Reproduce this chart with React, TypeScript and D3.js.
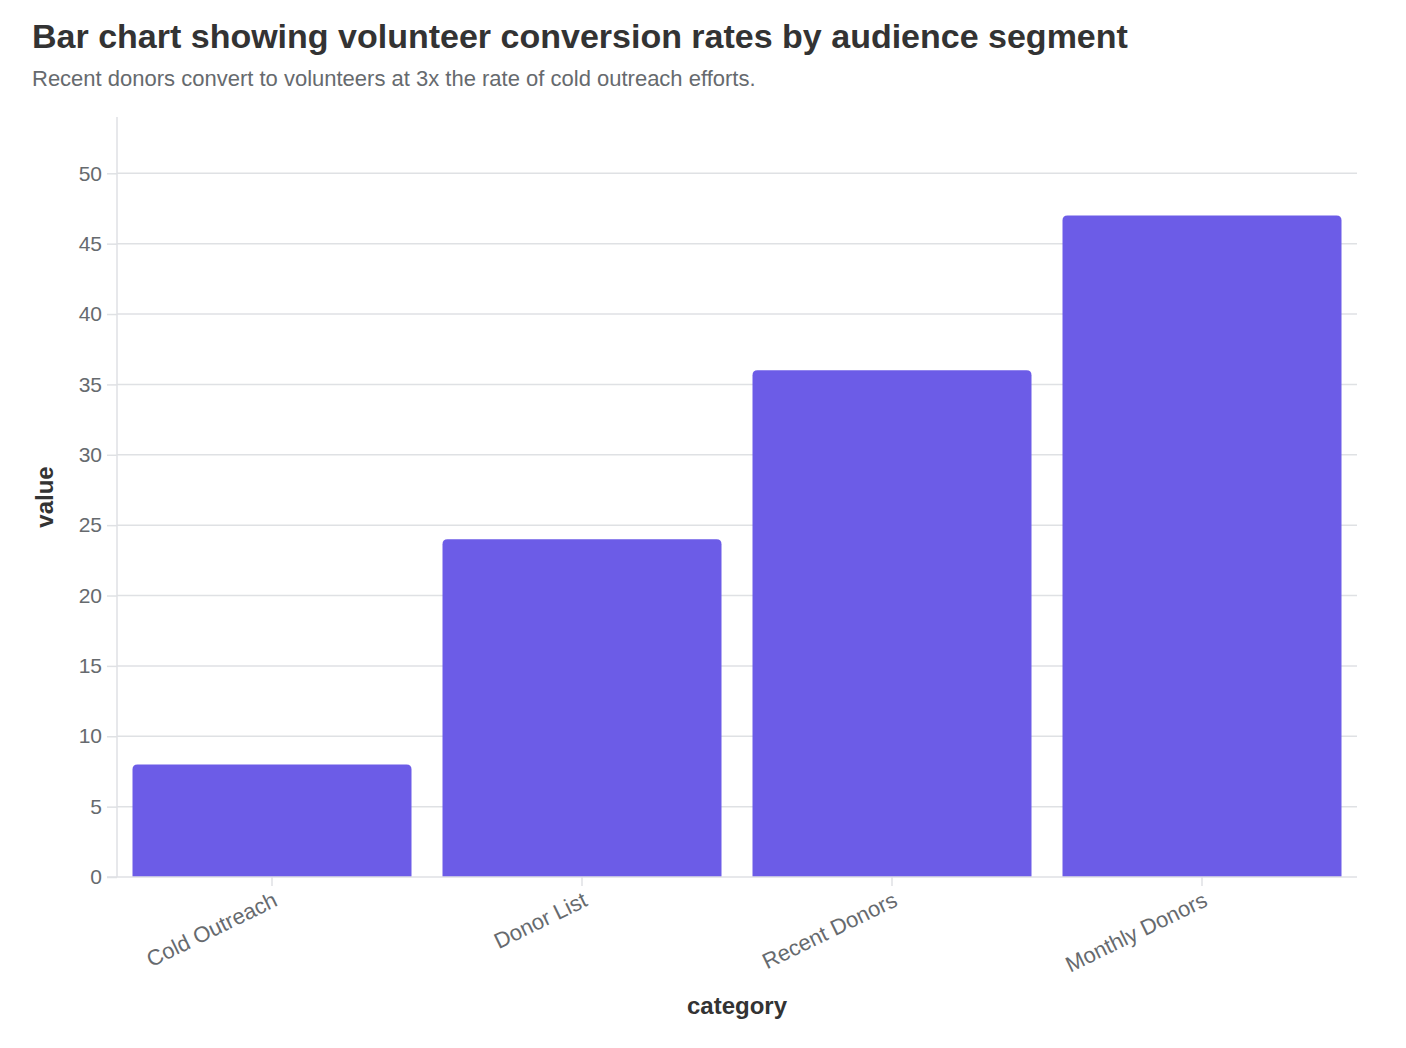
import { useEffect, useRef } from 'react';
import * as d3 from 'd3';

const WIDTH = 1406;
const HEIGHT = 1048;
const MARGIN = { top: 117, right: 49, bottom: 171, left: 117 };

const CATEGORIES = ['Cold Outreach', 'Donor List', 'Recent Donors', 'Monthly Donors'];
const VALUES = [8, 24, 36, 47];
const Y_TICKS = [0, 5, 10, 15, 20, 25, 30, 35, 40, 45, 50];

const BAR_COLOR = '#6c5ce7';
const GRID_COLOR = '#dfe1e4';
const TEXT_MUTED = '#666a6e';
const TEXT_DARK = '#333333';
const FONT = "'Liberation Sans', Arial, Helvetica, sans-serif";

export default function App() {
  const svgRef = useRef<SVGSVGElement>(null);

  useEffect(() => {
    const svg = d3.select(svgRef.current);
    svg.selectAll('*').remove();

    const x0 = MARGIN.left;
    const x1 = WIDTH - MARGIN.right;
    const y0 = HEIGHT - MARGIN.bottom;
    const y1 = MARGIN.top;

    const x = d3.scaleBand<string>().domain(CATEGORIES).range([x0, x1]).paddingInner(0.1).paddingOuter(0.05);
    const y = d3.scaleLinear().domain([0, 54]).range([y0, y1]);

    // title + subtitle
    svg.append('text')
      .attr('x', 32).attr('y', 48)
      .attr('font-family', FONT).attr('font-size', 34).attr('font-weight', 700)
      .attr('fill', TEXT_DARK)
      .text('Bar chart showing volunteer conversion rates by audience segment');
    svg.append('text')
      .attr('x', 32).attr('y', 86)
      .attr('font-family', FONT).attr('font-size', 22)
      .attr('fill', TEXT_MUTED)
      .text('Recent donors convert to volunteers at 3x the rate of cold outreach efforts.');

    // grid
    svg.append('g')
      .selectAll('line')
      .data(Y_TICKS.filter((t) => t > 0))
      .join('line')
      .attr('x1', x0).attr('x2', x1)
      .attr('y1', (d) => y(d)).attr('y2', (d) => y(d))
      .attr('stroke', GRID_COLOR).attr('stroke-width', 1.5);

    // bars, rounded top corners
    const r = 5;
    svg.append('g')
      .selectAll('path')
      .data(VALUES)
      .join('path')
      .attr('fill', BAR_COLOR)
      .attr('d', (d, i) => {
        const bx = x(CATEGORIES[i])!;
        const bw = x.bandwidth();
        const top = y(d);
        return `M${bx},${y0}V${top + r}Q${bx},${top} ${bx + r},${top}H${bx + bw - r}Q${bx + bw},${top} ${bx + bw},${top + r}V${y0}Z`;
      });

    // y axis
    const yAxis = svg.append('g')
      .attr('transform', `translate(${x0},0)`)
      .call(d3.axisLeft(y).tickValues(Y_TICKS).tickSize(10).tickPadding(5));
    yAxis.select('.domain').attr('stroke', GRID_COLOR).attr('stroke-width', 1.5).attr('d', `M0,${y0}V${y1}`);
    yAxis.selectAll('.tick line').attr('stroke', GRID_COLOR).attr('stroke-width', 1.5);
    yAxis.selectAll('.tick text')
      .attr('font-family', FONT).attr('font-size', 21).attr('fill', TEXT_MUTED);

    // x axis
    const xAxis = svg.append('g')
      .attr('transform', `translate(0,${y0})`)
      .call(d3.axisBottom(x).tickSize(9).tickPadding(8));
    xAxis.select('.domain').attr('stroke', GRID_COLOR).attr('stroke-width', 1.5).attr('d', `M${x0 - 10},0H${x1}`);
    xAxis.selectAll('.tick line').attr('stroke', GRID_COLOR).attr('stroke-width', 1.5);
    xAxis.selectAll('.tick text')
      .attr('font-family', FONT).attr('font-size', 22).attr('fill', TEXT_MUTED)
      .attr('text-anchor', 'end')
      .attr('dy', '0.35em')
      .attr('transform', 'translate(-4,6) rotate(-26)');

    // axis titles
    svg.append('text')
      .attr('x', (x0 + x1) / 2).attr('y', 1014)
      .attr('text-anchor', 'middle')
      .attr('font-family', FONT).attr('font-size', 24).attr('font-weight', 700)
      .attr('fill', TEXT_DARK)
      .text('category');
    svg.append('text')
      .attr('transform', `translate(53,${(y0 + y1) / 2}) rotate(-90)`)
      .attr('text-anchor', 'middle')
      .attr('font-family', FONT).attr('font-size', 24).attr('font-weight', 700)
      .attr('fill', TEXT_DARK)
      .text('value');
  }, []);

  return (
    <svg
      ref={svgRef}
      width={WIDTH}
      height={HEIGHT}
      style={{ display: 'block', position: 'absolute', left: 0, top: 0, background: '#fff' }}
    />
  );
}
